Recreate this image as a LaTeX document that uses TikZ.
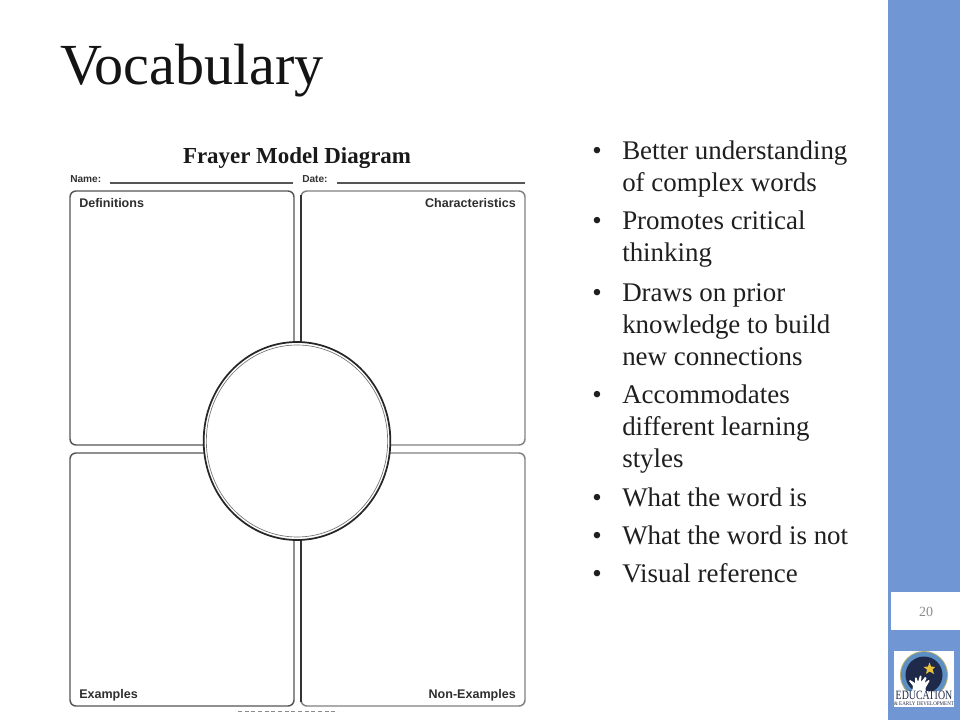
\documentclass[tikz,border=0pt]{standalone}
\usepackage{fontspec}
\setmainfont{Liberation Serif}
\newfontfamily\arialf{Liberation Sans}
\usetikzlibrary{shapes.geometric}
\definecolor{sidebar}{HTML}{7097D3}
\definecolor{navy}{HTML}{1F2A4A}
\definecolor{goldc}{HTML}{E8C23A}
\definecolor{ringblue}{HTML}{5C8FC4}
\definecolor{formgray}{HTML}{555555}
\tikzset{
 x=0.75pt,y=-0.75pt,
 panel/.style={draw=formgray,line width=1.1pt,rounded corners=4.5pt,fill=white},
 formlabel/.style={font=\arialf\bfseries\fontsize{7.6}{9}\selectfont,text=black!80,inner sep=0pt,anchor=base west},
 smalllabel/.style={font=\arialf\bfseries\fontsize{9.4}{11}\selectfont,text=black!82,inner sep=0pt},
 item/.style={font=\fontsize{20.2}{24}\selectfont,text=black!88,inner sep=0pt,anchor=base west,align=left},
 dot/.style={font=\fontsize{20.2}{24}\selectfont,text=black!88,inner sep=0pt,anchor=base},
 rule/.style={draw=formgray,line width=1.1pt},
}
\begin{document}
\begin{tikzpicture}
\useasboundingbox (0,0) rectangle (960,720);
\fill[white] (0,0) rectangle (960,720);
% sidebar
\fill[sidebar] (888,0) rectangle (960,720);
\fill[white] (891,592) rectangle (960,630);
\node[font=\fontsize{10.5}{12}\selectfont,text=black!45,inner sep=0pt] (pagenum) at (926,612) {20};
% title
\node[inner sep=0pt,anchor=base west,font=\fontsize{43.6}{48}\selectfont,text=black!92] (title) at (60,85) {Vocabulary};
% form heading
\node[inner sep=0pt,font=\bfseries\fontsize{17.2}{20}\selectfont,text=black!90] (heading) at (297,158) {Frayer Model Diagram};
\node[formlabel] (name) at (70,183) {Name:};
\node[formlabel] (date) at (302,183) {Date:};
\draw[rule] (110,183) -- (293,183);
\draw[rule] (337,183) -- (525,183);
% panels
\draw[panel] (70,191) rectangle (294,445);
\draw[panel,draw=black!50] (301,191) rectangle (525,445);
\draw[panel] (70,453) rectangle (294,706);
\draw[panel,draw=black!50] (301,453) rectangle (525,706);
\draw[black!80,line width=1pt] (301,195) -- (301,345);
\draw[black!80,line width=1pt] (301,537) -- (301,702);
\node[smalllabel,anchor=base west] (defs) at (79,208) {Definitions};
\node[smalllabel,anchor=base east] (chars) at (516,208) {Characteristics};
\node[smalllabel,anchor=base west] (exs) at (79,698) {Examples};
\node[smalllabel,anchor=base east] (nonex) at (516,698) {Non-Examples};
% ellipse
\node[ellipse,draw=black!85,line width=1.3pt,fill=white,minimum width=140pt,minimum height=148.5pt,inner sep=0pt] (oval) at (297,441) {};
\node[ellipse,draw=black!55,line width=0.5pt,minimum width=136pt,minimum height=144pt,inner sep=0pt] (ovalin) at (297,441) {};
% faint footer remnant
\draw[black!45,line width=0.5pt,dash pattern=on 3pt off 2pt] (238,711) -- (338,711);
% bullets
\foreach \y in {160,230,301,403,506,544,582} \node[dot] at (597,\y) {•};
\node[item] (b1) at (622,192) {Better understanding\\of complex words};
\node[item] (b2) at (622,262) {Promotes critical\\thinking};
\node[item] (b3) at (622,365) {Draws on prior\\knowledge to build\\new connections};
\node[item] (b4) at (622,467) {Accommodates\\different learning\\styles};
\node[item] (b5) at (622,506) {What the word is};
\node[item] (b6) at (622,544) {What the word is not};
\node[item] (b7) at (622,582) {Visual reference};
% logo
\fill[white] (894,651) rectangle (954,707);
\fill[goldc!60!ringblue] (924,675) circle[radius=24];
\fill[ringblue] (924,675) circle[radius=23];
\fill[navy] (924,675) circle[radius=18.5];
\fill[goldc] (929.5,662.5) -- (931,666.5) -- (935,667) -- (932.5,669.5) -- (934,674) -- (929.5,671.5) -- (926,674) -- (927,669.5) -- (923.5,667) -- (928,666.5) -- cycle;
\fill[white] (912,692) -- (913,686) -- (909,681) -- (910,680) -- (915,683) -- (915,677.5) -- (916.5,677.5) -- (918,682) -- (920,675.5) -- (921.5,676) -- (921,682) -- (925,677) -- (926.5,678) -- (924.5,683) -- (928.5,680) -- (929.5,681) -- (925.5,688) -- (926,692) -- cycle;
\fill[white] (894,691) rectangle (954,707);
\node[inner sep=0pt,font=\fontsize{9.5}{10}\selectfont,text=navy] (logoa) at (924,695.5) {\scalebox{0.78}[1]{EDUCATION}};
\node[inner sep=0pt,font=\fontsize{4.2}{5}\selectfont,text=navy] (logob) at (924,703.5) {\scalebox{0.9}[1]{\& EARLY DEVELOPMENT}};
\end{tikzpicture}
\end{document}
